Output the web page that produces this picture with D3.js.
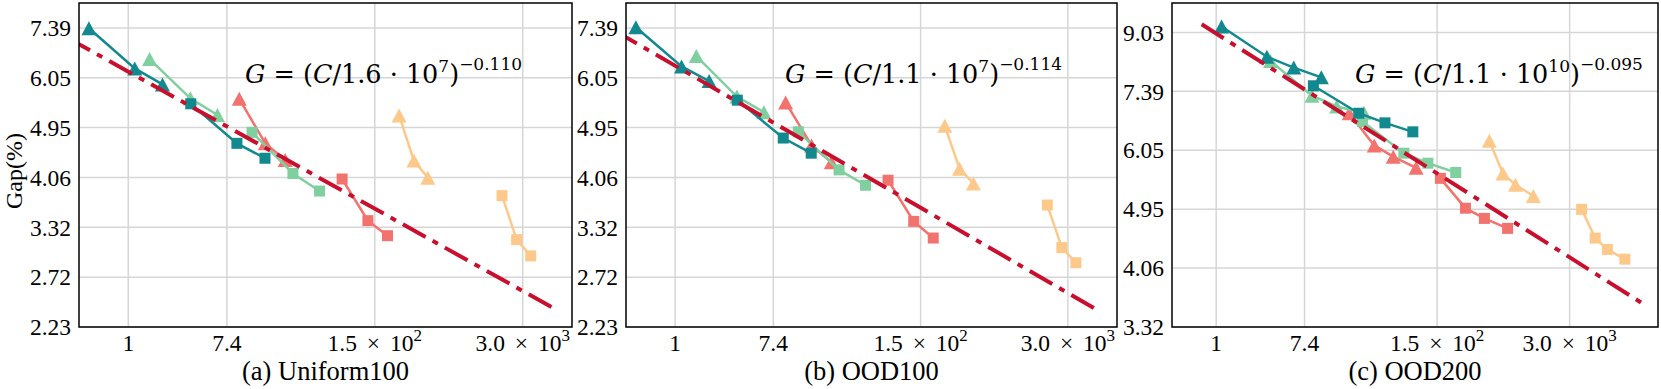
<!DOCTYPE html>
<html>
<head>
<meta charset="utf-8">
<script src="https://cdn.jsdelivr.net/npm/d3@7"></script>
<style>
  body { margin: 0; background: #fff; }
  svg { display: block; }
</style>
</head>
<body>
<svg id="chart" width="1661" height="389"></svg>
<script>
// ---- data ----
const seriesColors = ["#fdc98a", "#f2736e", "#7fcf9f", "#11898f"]; // yellow, salmon, green, teal

// compute (x) for the 100-node panels, triangles and squares, per colour
const compute100Tri = [[243, 328, 435], [9.5, 16.1, 24.1], [1.54, 3.52, 6.1], [0.45, 1.14, 2.0]];
const compute100Sq  = [[1960, 2635, 3508], [76.5, 129, 192], [12.3, 28.2, 48.4], [3.55, 9.05, 16.0]];

// gap (%) Uniform100
const gapUniformTri = [[5.20, 4.34, 4.05], [5.56, 4.65, 4.35], [6.52, 5.57, 5.21], [7.38, 6.28, 5.89]];
const gapUniformSq  = [[3.77, 3.16, 2.96], [4.03, 3.41, 3.21], [4.86, 4.12, 3.84], [5.45, 4.65, 4.38]];

// gap (%) OOD100
const gapOod100Tri = [[4.99, 4.20, 3.96], [5.48, 4.61, 4.31], [6.60, 5.61, 5.27], [7.41, 6.33, 5.97]];
const gapOod100Sq  = [[3.63, 3.06, 2.88], [4.01, 3.40, 3.18], [4.87, 4.18, 3.93], [5.53, 4.75, 4.47]];

// compute and gap (%) OOD200
const compute200Tri = [[484, 659, 875, 1311], [20.3, 35.8, 55, 92.3], [3.42, 8.74, 15.3, 28.3], [1.13, 3.15, 5.79, 10.8]];
const compute200Sq  = [[3911, 5317, 7006, 10420], [160, 282, 433, 732], [27.4, 70, 120.5, 226.5], [9.03, 25.2, 45.6, 85.7]];
const gapOod200Tri = [[6.25, 5.59, 5.38, 5.18], [6.86, 6.15, 5.92, 5.70], [8.19, 7.28, 7.02, 6.87], [9.21, 8.31, 8.01, 7.75]];
const gapOod200Sq  = [[4.95, 4.49, 4.32, 4.18], [5.50, 4.97, 4.80, 4.64], [6.67, 5.99, 5.79, 5.61], [7.53, 6.86, 6.64, 6.44]];

// power-law fits G = (C / k)^a
const fitScale = [1.6e7, 1.1e7, 1.1e10];
const fitScaleText = ["1.6", "1.1", "1.1"];
const fitTenPow = ["7", "7", "10"];
const fitExp = [-0.110, -0.114, -0.095];
const fitExpText = ["\u22120.110", "\u22120.114", "\u22120.095"];
const fitRange = [[0.29, 5430], [0.29, 5430], [0.72, 15800]];

// axes
const xTicks = [1, 7.389, 148.41, 2980.96];
const xTickBase = ["1", "7.4", "1.5 \u00d7 10", "3.0 \u00d7 10"];
const xTickSup = ["", "", "2", "3"];
const yTicks100 = [2.2255, 2.7183, 3.3201, 4.0552, 4.9530, 6.0496, 7.3891];
const yTicks200 = [3.3201, 4.0552, 4.9530, 6.0496, 7.3891, 9.0250];
const titles = ["(a) Uniform100", "(b) OOD100", "(c) OOD200"];

// ---- layout ----
const svg = d3.select("#chart");
const plotTop = 3, plotBottom = 327;
const frames = [[79, 572], [626, 1117], [1172, 1658]];
const xDomains = [[0.3679, 8103], [0.3679, 8103], [0.3679, 22026]];
const yDomains = [[2.2255, 8.166], [2.2255, 8.166], [3.3201, 9.974]];
const formulaX = [245, 785, 1355];
const serif = "'Liberation Serif', 'Times New Roman', serif";

const panelData = [
  { cx: [compute100Tri, compute100Sq], gy: [gapUniformTri, gapUniformSq], yt: yTicks100 },
  { cx: [compute100Tri, compute100Sq], gy: [gapOod100Tri, gapOod100Sq], yt: yTicks100 },
  { cx: [compute200Tri, compute200Sq], gy: [gapOod200Tri, gapOod200Sq], yt: yTicks200 }
];

function triPath(w, h) {
  return `M0,${-h / 2}L${w / 2},${h / 2}L${-w / 2},${h / 2}Z`;
}
function sqPath(s) {
  return `M${-s / 2},${-s / 2}h${s}v${s}h${-s}Z`;
}

panelData.forEach((p, i) => {
  const x = d3.scaleLog().domain(xDomains[i]).range(frames[i]);
  const y = d3.scaleLog().domain(yDomains[i]).range([plotBottom, plotTop]);
  const g = svg.append("g");

  g.append("clipPath").attr("id", "clip" + i)
    .append("rect")
    .attr("x", frames[i][0]).attr("y", plotTop)
    .attr("width", frames[i][1] - frames[i][0]).attr("height", plotBottom - plotTop);

  // grid
  g.append("g").selectAll("line").data(xTicks).enter().append("line")
    .attr("x1", d => x(d)).attr("x2", d => x(d))
    .attr("y1", plotTop).attr("y2", plotBottom)
    .attr("stroke", "#d6d6d6").attr("stroke-width", 1.5);
  g.append("g").selectAll("line").data(p.yt).enter().append("line")
    .attr("x1", frames[i][0]).attr("x2", frames[i][1])
    .attr("y1", d => y(d)).attr("y2", d => y(d))
    .attr("stroke", "#d6d6d6").attr("stroke-width", 1.5);

  // series
  const plot = g.append("g").attr("clip-path", `url(#clip${i})`);
  const line = d3.line().x(d => x(d[0])).y(d => y(d[1]));
  seriesColors.forEach((col, s) => {
    [0, 1].forEach(kind => {
      const pts = p.cx[kind][s].map((c, j) => [c, p.gy[kind][s][j]]);
      plot.append("path").datum(pts)
        .attr("d", line).attr("fill", "none")
        .attr("stroke", col).attr("stroke-width", 2.5);
      plot.append("g").selectAll("path").data(pts).enter().append("path")
        .attr("transform", d => `translate(${x(d[0])},${y(d[1])})`)
        .attr("d", kind === 0 ? triPath(15, 14) : sqPath(11))
        .attr("fill", col);
    });
  });

  // fit line
  const fit = fitRange[i].map(c => [c, Math.pow(c / fitScale[i], fitExp[i])]);
  plot.append("path").datum(fit)
    .attr("d", line).attr("fill", "none")
    .attr("stroke", "#c8102e").attr("stroke-width", 4)
    .attr("stroke-dasharray", "26,8,6,8");

  // frame
  g.append("rect")
    .attr("x", frames[i][0]).attr("y", plotTop)
    .attr("width", frames[i][1] - frames[i][0]).attr("height", plotBottom - plotTop)
    .attr("fill", "none").attr("stroke", "#000").attr("stroke-width", 1.5);

  // y tick labels
  g.append("g").selectAll("text").data(p.yt).enter().append("text")
    .attr("x", frames[i][0] - 8).attr("y", d => y(d)).attr("dy", "0.35em")
    .attr("text-anchor", "end")
    .attr("font-family", serif).attr("font-size", 23.5)
    .text(d => d.toFixed(2));

  // x tick labels
  const xt = g.append("g").selectAll("text").data(xTicks).enter().append("text")
    .attr("x", d => x(d)).attr("y", 351)
    .attr("text-anchor", "middle")
    .attr("font-family", serif).attr("font-size", 23.5)
    .attr("word-spacing", 4);
  xt.append("tspan").text((d, j) => xTickBase[j]);
  xt.append("tspan").attr("dy", -10).attr("font-size", 17).text((d, j) => xTickSup[j]);

  // title
  g.append("text")
    .attr("x", (frames[i][0] + frames[i][1]) / 2).attr("y", 380)
    .attr("text-anchor", "middle")
    .attr("font-family", serif).attr("font-size", 26.5)
    .text(titles[i]);

  // formula
  const f = g.append("text")
    .attr("x", formulaX[i]).attr("y", 83)
    .attr("font-family", "'DejaVu Serif', serif").attr("font-size", 25.5);
  f.append("tspan").attr("font-style", "italic").text("G");
  f.append("tspan").text(" =  (");
  f.append("tspan").attr("font-style", "italic").text("C");
  f.append("tspan").text("/" + fitScaleText[i] + " \u00b7 10");
  f.append("tspan").attr("dy", -11).attr("font-size", 17).text(fitTenPow[i]);
  f.append("tspan").attr("dy", 11).text(")");
  f.append("tspan").attr("dy", -13).attr("font-size", 17).text(fitExpText[i]);
});

// y axis title
svg.append("text")
  .attr("transform", "translate(22,171) rotate(-90)")
  .attr("text-anchor", "middle")
  .attr("font-family", serif).attr("font-size", 24)
  .text("Gap(%)");
</script>
</body>
</html>
